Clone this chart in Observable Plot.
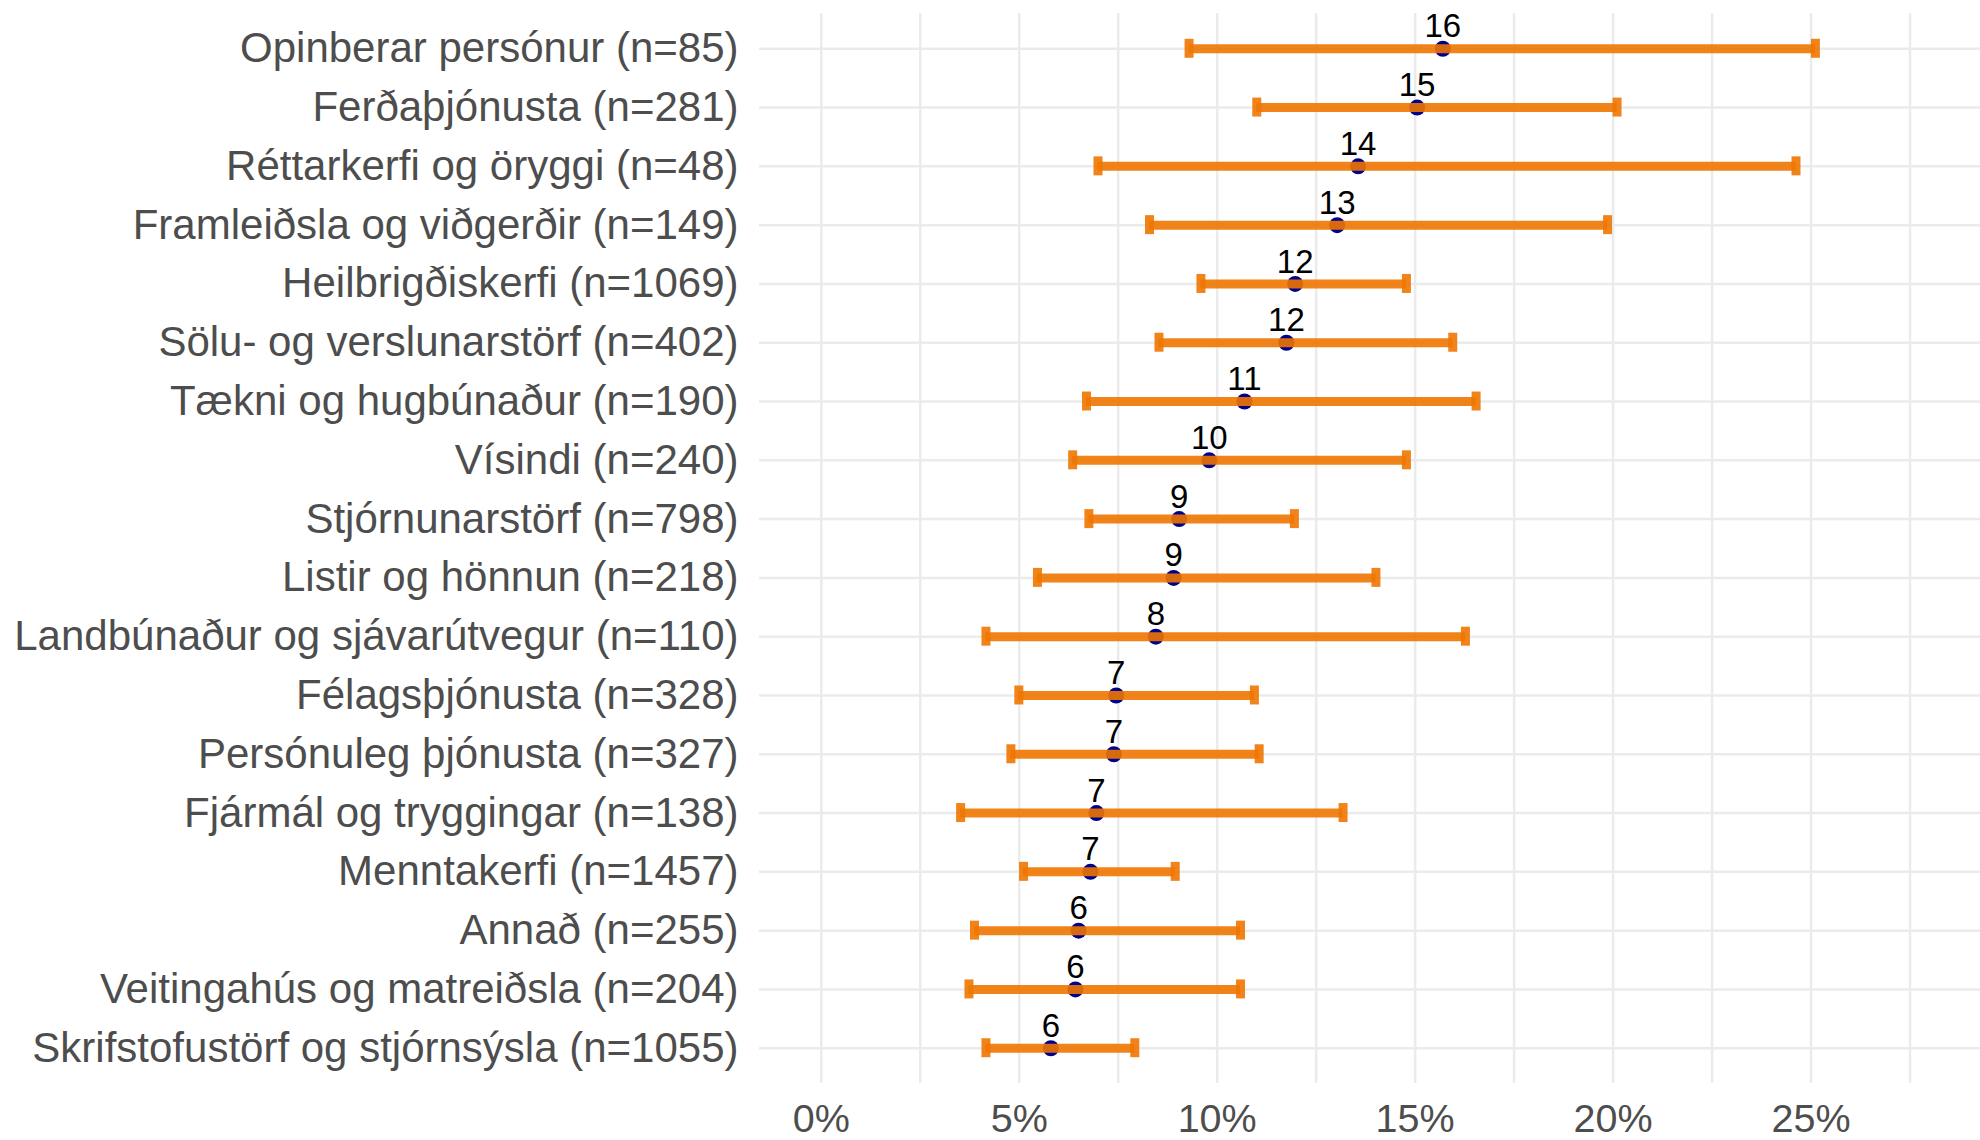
<!DOCTYPE html>
<html>
<head>
<meta charset="utf-8">
<script src="https://cdn.jsdelivr.net/npm/d3@7"></script>
<script src="https://cdn.jsdelivr.net/npm/@observablehq/plot@0.6"></script>
<style>
  html, body { margin: 0; padding: 0; background: #ffffff; }
  #chart svg { display: block; }
</style>
</head>
<body>
<div id="chart"></div>
<script>
// Categories, top to bottom
const categories = [
  "Opinberar persónur (n=85)",
  "Ferðaþjónusta (n=281)",
  "Réttarkerfi og öryggi (n=48)",
  "Framleiðsla og viðgerðir (n=149)",
  "Heilbrigðiskerfi (n=1069)",
  "Sölu- og verslunarstörf (n=402)",
  "Tækni og hugbúnaður (n=190)",
  "Vísindi (n=240)",
  "Stjórnunarstörf (n=798)",
  "Listir og hönnun (n=218)",
  "Landbúnaður og sjávarútvegur (n=110)",
  "Félagsþjónusta (n=328)",
  "Persónuleg þjónusta (n=327)",
  "Fjármál og tryggingar (n=138)",
  "Menntakerfi (n=1457)",
  "Annað (n=255)",
  "Veitingahús og matreiðsla (n=204)",
  "Skrifstofustörf og stjórnsýsla (n=1055)"
];
// Point estimates (%)
const estimate = [15.70, 15.05, 13.56, 13.03, 11.97, 11.75, 10.69, 9.80, 9.04, 8.90, 8.45, 7.45, 7.39, 6.95, 6.80, 6.50, 6.42, 5.80];
// Lower confidence bounds (%)
const lower = [9.29, 11.00, 6.99, 8.29, 9.59, 8.53, 6.70, 6.35, 6.76, 5.46, 4.16, 4.99, 4.79, 3.52, 5.11, 3.87, 3.73, 4.16];
// Upper confidence bounds (%)
const upper = [25.11, 20.10, 24.62, 19.86, 14.78, 15.95, 16.54, 14.78, 11.95, 14.01, 16.27, 10.94, 11.06, 13.18, 8.94, 10.59, 10.59, 7.92];
// Value labels shown above the points
const valueLabels = ["16", "15", "14", "13", "12", "12", "11", "10", "9", "9", "8", "7", "7", "7", "7", "6", "6", "6"];
// Axis ticks
const xTicks = [0, 5, 10, 15, 20, 25];
const xMinorTicks = [2.5, 7.5, 12.5, 17.5, 22.5, 27.5];

const data = categories.map((c, i) => ({
  cat: c, est: estimate[i], lo: lower[i], hi: upper[i], label: valueLabels[i]
}));

const gridColor = "#EBEBEB";
const barColor = "#EE7600";

const chart = Plot.plot({
  width: 1980,
  height: 1140,
  marginLeft: 759,
  marginRight: 0,
  marginTop: 13,
  marginBottom: 57,
  style: { fontFamily: "'Liberation Sans', Arial, sans-serif", background: "#ffffff" },
  x: { domain: [-1.56, 29.28] },
  y: { type: "band", domain: categories, paddingInner: 0.677, paddingOuter: 0.4385, round: false },
  marks: [
    Plot.gridX(xMinorTicks, { stroke: gridColor, strokeOpacity: 1, strokeWidth: 2.5 }),
    Plot.gridX(xTicks, { stroke: gridColor, strokeOpacity: 1, strokeWidth: 2.5 }),
    Plot.gridY({ stroke: gridColor, strokeOpacity: 1, strokeWidth: 2.5 }),
    Plot.axisY({ tickSize: 0, tickPadding: 21, fontSize: 42, fill: "#4D4D4D", label: null }),
    Plot.axisX(xTicks, { tickSize: 0, tickPadding: 20, fontSize: 39.5, fill: "#4D4D4D", label: null, tickFormat: d => d + "%" }),
    Plot.dot(data, { x: "est", y: "cat", r: 8, fill: "#00008B", stroke: null }),
    Plot.ruleY(data, { y: "cat", x1: "lo", x2: "hi", stroke: barColor, strokeWidth: 9, strokeOpacity: 0.9 }),
    Plot.tickX(data, { x: "lo", y: "cat", stroke: barColor, strokeWidth: 9, strokeOpacity: 0.9 }),
    Plot.tickX(data, { x: "hi", y: "cat", stroke: barColor, strokeWidth: 9, strokeOpacity: 0.9 }),
    Plot.text(data, { x: "est", y: "cat", text: "label", dy: -22, fontSize: 33, fill: "#000000" })
  ]
});

document.getElementById("chart").appendChild(chart);
</script>
</body>
</html>
